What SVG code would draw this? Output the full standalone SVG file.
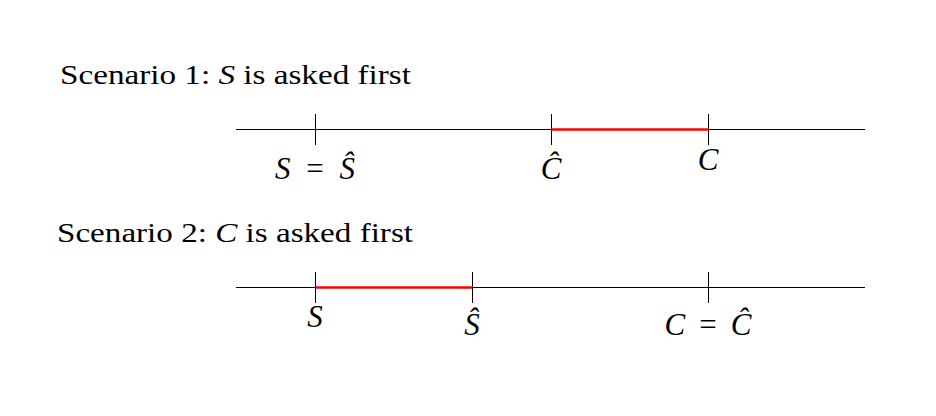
<svg xmlns="http://www.w3.org/2000/svg" width="936" height="416" viewBox="0 0 936 416">
<style>
.t{font-family:"Liberation Serif",serif;font-size:27px;fill:#000}
.m{font-style:italic}
.ax{stroke:#000;stroke-width:1;fill:none}
.hl{stroke:#ff0000;stroke-width:2.6;fill:none}
.lb{font-family:"Liberation Serif",serif;font-size:31px;fill:#000;text-anchor:middle}
</style>
<rect width="936" height="416" fill="#fff"/>
<g id="title1"><text class="t" x="60" y="84" textLength="351" lengthAdjust="spacingAndGlyphs">Scenario 1: <tspan class="m">S</tspan> is asked first</text></g>
<g id="title2"><text class="t" x="57" y="242" textLength="356" lengthAdjust="spacingAndGlyphs">Scenario 2: <tspan class="m">C</tspan> is asked first</text></g>
<g id="connectors">
<line class="ax" x1="236" y1="129.5" x2="865" y2="129.5"/>
<line class="ax" x1="315.5" y1="114" x2="315.5" y2="145"/>
<line class="ax" x1="551.5" y1="114" x2="551.5" y2="145"/>
<line class="ax" x1="708.5" y1="114" x2="708.5" y2="145"/>
<line class="hl" x1="551.5" y1="129.5" x2="708.5" y2="129.5"/>
<line class="ax" x1="236" y1="287.5" x2="865" y2="287.5"/>
<line class="ax" x1="315.5" y1="272" x2="315.5" y2="303"/>
<line class="ax" x1="472.5" y1="272" x2="472.5" y2="303"/>
<line class="ax" x1="708.5" y1="272" x2="708.5" y2="303"/>
<line class="hl" x1="315.5" y1="287.5" x2="472.5" y2="287.5"/>
</g>
<g id="label-s1"><text class="lb" x="315" y="179" textLength="80" lengthAdjust="spacing"><tspan class="m">S</tspan> = <tspan class="m">Ŝ</tspan></text></g>
<g id="label-chat1"><text class="lb m" x="551" y="179">Ĉ</text></g>
<g id="label-c1"><text class="lb m" x="708" y="170">C</text></g>
<g id="label-s2"><text class="lb m" x="315" y="327">S</text></g>
<g id="label-shat2"><text class="lb m" x="472" y="335">Ŝ</text></g>
<g id="label-c2"><text class="lb" x="708" y="335" textLength="87" lengthAdjust="spacing"><tspan class="m">C</tspan> = <tspan class="m">Ĉ</tspan></text></g>
</svg>
